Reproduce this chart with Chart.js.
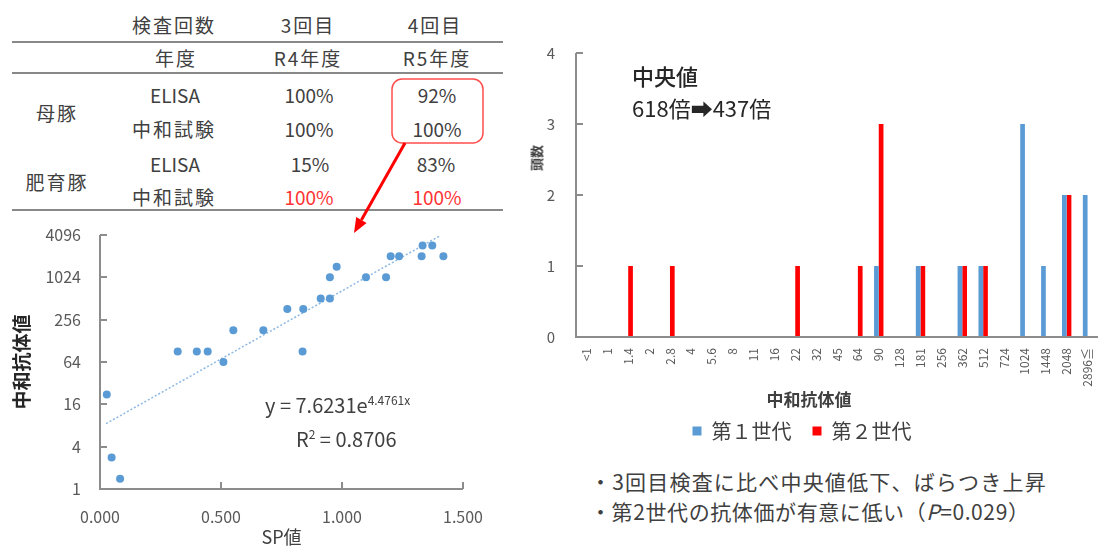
<!DOCTYPE html>
<html lang="ja">
<head>
<meta charset="UTF-8">
<title>中和抗体値</title>
<script src="https://cdn.jsdelivr.net/npm/chart.js"></script>
<style>
  body { margin: 0; background: #fff; font-family: "Noto Sans CJK JP", sans-serif; color: #404040; }
  #page { position: relative; width: 1105px; height: 552px; overflow: hidden; }
  .t { position: absolute; white-space: nowrap; transform: translate(-50%, -50%); font-size: 19px; line-height: 1; }
  .cjk { letter-spacing: 2px; }
  .red { color: #ff3333; }
  .rule { position: absolute; left: 12px; width: 491px; height: 2px; background: #888; }
  .note { position: absolute; white-space: nowrap; line-height: 1; }
  #scatter { position: absolute; left: 0; top: 215px; }
  #bars { position: absolute; left: 504px; top: 40px; }
  svg { position: absolute; left: 0; top: 0; pointer-events: none; }
</style>
</head>
<body>
<div id="page">
  <!-- table -->
  <div class="t cjk" style="left:174px; top:24px">検査回数</div>
  <div class="t cjk" style="left:308px; top:24px">3回目</div>
  <div class="t cjk" style="left:435px; top:24px">4回目</div>
  <div class="rule" style="top:41px"></div>
  <div class="t cjk" style="left:176px; top:57px">年度</div>
  <div class="t cjk" style="left:308px; top:57px">R4年度</div>
  <div class="t cjk" style="left:437px; top:57px">R5年度</div>
  <div class="rule" style="top:72px"></div>
  <div class="t cjk" style="left:57px; top:112px">母豚</div>
  <div class="t cjk" style="left:57px; top:181px">肥育豚</div>
  <div class="t" style="left:175px; top:94px">ELISA</div>
  <div class="t" style="left:309px; top:94px">100%</div>
  <div class="t" style="left:437px; top:94px">92%</div>
  <div class="t cjk" style="left:174px; top:128px">中和試験</div>
  <div class="t" style="left:309px; top:128px">100%</div>
  <div class="t" style="left:437px; top:128px">100%</div>
  <div class="t" style="left:175px; top:163px">ELISA</div>
  <div class="t" style="left:310px; top:163px">15%</div>
  <div class="t" style="left:436px; top:163px">83%</div>
  <div class="t cjk" style="left:174px; top:196px">中和試験</div>
  <div class="t red" style="left:309px; top:196px">100%</div>
  <div class="t red" style="left:437px; top:196px">100%</div>
  <div class="rule" style="top:209px"></div>

  <canvas id="scatter" width="500" height="337"></canvas>
  <canvas id="bars" width="598" height="411"></canvas>

  <!-- scatter annotation -->
  <div class="note" style="left:265px; top:394px; font-size:20px">y = 7.6231e<sup style="font-size:12px">4.4761x</sup></div>
  <div class="note" style="left:296px; top:428px; font-size:20px">R<sup style="font-size:12px">2</sup> = 0.8706</div>

  <!-- bar chart texts -->
  <div class="t" style="left:536px; top:158px; font-size:13px; font-weight:bold; transform:translate(-50%,-50%) rotate(-90deg)">頭数</div>
  <div class="t" style="left:809px; top:398px; font-size:17px; font-weight:bold">中和抗体値</div>
  <div class="note" style="left:632px; top:64px; font-size:22px; font-weight:500; color:#262626">中央値</div>
  <div class="note" style="left:632px; top:96px; font-size:22px; color:#262626">618倍➡437倍</div>

  <div class="note" style="left:590px; top:471px; font-size:21px; letter-spacing:1.2px">・3回目検査に比べ中央値低下、ばらつき上昇</div>
  <div class="note" style="left:590px; top:501px; font-size:21px; letter-spacing:0.6px">・第2世代の抗体価が有意に低い（<i>P</i>=0.029）</div>

  <svg width="1105" height="552">
    <rect x="392" y="79" width="91" height="64" rx="10" ry="10" fill="none" stroke="#ff4d4d" stroke-width="1.5"/>
    <line x1="405" y1="143" x2="361.4" y2="220" stroke="#ff0000" stroke-width="3"/>
    <polygon points="354,233 366.6,223 356.2,217" fill="#ff0000"/>
  </svg>
</div>

<script>
// scatter: SP value vs neutralizing antibody titer
const spValues = [0.028, 0.048, 0.083, 0.321, 0.40, 0.445, 0.51, 0.551, 0.675, 0.774, 0.84, 0.837,
                  0.912, 0.95, 0.95, 0.978, 1.099, 1.182, 1.201, 1.236, 1.329, 1.333, 1.373, 1.419];
const titers = [22, 2.8, 1.4, 90, 90, 90, 64, 181, 181, 362, 362, 90,
                512, 512, 1024, 1448, 1024, 1024, 2048, 2048, 2048, 2896, 2896, 2048];
const trendX = [0.025, 1.408];
const trendY = [8.5, 4050];
const yTicks = [1, 4, 16, 64, 256, 1024, 4096];

// histogram of titers per generation
const titerLabels = ['<1', '1', '1.4', '2', '2.8', '4', '5.6', '8', '11', '16', '22', '32', '45', '64',
                     '90', '128', '181', '256', '362', '512', '724', '1024', '1448', '2048', '2896≦'];
const gen1 = [0, 0, 0, 0, 0, 0, 0, 0, 0, 0, 0, 0, 0, 0, 1, 0, 1, 0, 1, 1, 0, 3, 1, 2, 2];
const gen2 = [0, 0, 1, 0, 1, 0, 0, 0, 0, 0, 1, 0, 0, 1, 3, 0, 1, 0, 1, 1, 0, 0, 0, 2, 0];

Chart.defaults.font.family = "'Noto Sans CJK JP', sans-serif";
Chart.defaults.color = '#595959';

// axis lines with short inward tick marks, like the excel original
function axisFrame(xTicks) {
    return {
        id: 'axisFrame',
        afterDraw(chart) {
            const ctx = chart.ctx;
            const a = chart.chartArea;
            const sx = chart.scales.x, sy = chart.scales.y;
            const left = Math.round(a.left), bottom = Math.round(a.bottom);
            ctx.save();
            ctx.strokeStyle = '#8c8c8c';
            ctx.lineWidth = 2;
            ctx.beginPath();
            ctx.moveTo(left, Math.round(a.top));
            ctx.lineTo(left, bottom);
            ctx.lineTo(Math.round(a.right), bottom);
            sy.ticks.forEach(t => {
                const y = Math.round(sy.getPixelForValue(t.value));
                ctx.moveTo(left, y);
                ctx.lineTo(left + 7, y);
            });
            if (xTicks) {
                sx.ticks.forEach(t => {
                    const x = Math.round(sx.getPixelForValue(t.value));
                    ctx.moveTo(x, bottom);
                    ctx.lineTo(x, bottom - 7);
                });
            }
            ctx.stroke();
            ctx.restore();
        }
    };
}

new Chart(document.getElementById('scatter'), {
    type: 'scatter',
    data: {
        datasets: [{
            label: '中和抗体値',
            data: spValues.map((x, i) => ({ x: x, y: titers[i] })),
            backgroundColor: '#5B9BD5',
            pointRadius: 4,
            borderWidth: 0,
            order: 1
        }, {
            type: 'line',
            label: '近似曲線',
            data: trendX.map((x, i) => ({ x: x, y: trendY[i] })),
            borderColor: '#8db8e2',
            borderWidth: 1.5,
            borderDash: [2, 2],
            pointRadius: 0,
            fill: false,
            order: 2
        }]
    },
    plugins: [axisFrame(true)],
    options: {
        responsive: false,
        animation: false,
        layout: { padding: { top: 20, right: 37, left: 0, bottom: 0 } },
        plugins: { legend: { display: false }, tooltip: { enabled: false } },
        scales: {
            x: {
                type: 'linear', min: 0, max: 1.5,
                ticks: { stepSize: 0.5, callback: v => v.toFixed(3), font: { size: 16 }, padding: 0, maxRotation: 0 },
                grid: { display: false, drawTicks: true, tickLength: 18 },
                border: { display: false },
                title: { display: true, text: 'SP値', font: { size: 18 }, color: '#404040', padding: { top: 0, bottom: 4 } },
                afterFit: s => { s.height = 63; }
            },
            y: {
                type: 'logarithmic', min: 1, max: 4096,
                afterBuildTicks: s => { s.ticks = yTicks.map(v => ({ value: v })); },
                ticks: { callback: v => String(v), font: { size: 16 }, padding: 0 },
                grid: { display: false, drawTicks: true, tickLength: 19 },
                border: { display: false },
                title: { display: true, text: '中和抗体値', font: { size: 19, weight: 'bold' }, color: '#262626', padding: { top: 10, bottom: 0 } },
                afterFit: s => { s.width = 100; }
            }
        }
    }
});

new Chart(document.getElementById('bars'), {
    type: 'bar',
    data: {
        labels: titerLabels,
        datasets: [{
            label: '第１世代',
            data: gen1,
            backgroundColor: '#5B9BD5',
            categoryPercentage: 0.45,
            barPercentage: 1
        }, {
            label: '第２世代',
            data: gen2,
            backgroundColor: '#FF0000',
            categoryPercentage: 0.45,
            barPercentage: 1
        }]
    },
    plugins: [axisFrame(false)],
    options: {
        responsive: false,
        animation: false,
        layout: { padding: { top: 13, right: 2, left: 0, bottom: 0 } },
        plugins: {
            tooltip: { enabled: false },
            legend: {
                position: 'bottom',
                labels: { boxWidth: 9, boxHeight: 9, padding: 21, font: { size: 20 }, color: '#404040' }
            }
        },
        scales: {
            x: {
                grid: { display: false, drawTicks: true, tickLength: 11 },
                border: { display: false },
                ticks: { autoSkip: false, minRotation: 90, maxRotation: 90, font: { size: 12 }, padding: 0 },
                afterFit: s => { s.height = 63; }
            },
            y: {
                min: 0, max: 4,
                ticks: { stepSize: 1, font: { size: 15 }, padding: 0 },
                grid: { display: false, drawTicks: true, tickLength: 21 },
                border: { display: false },
                afterFit: s => { s.width = 72; }
            }
        }
    }
});
</script>
</body>
</html>
